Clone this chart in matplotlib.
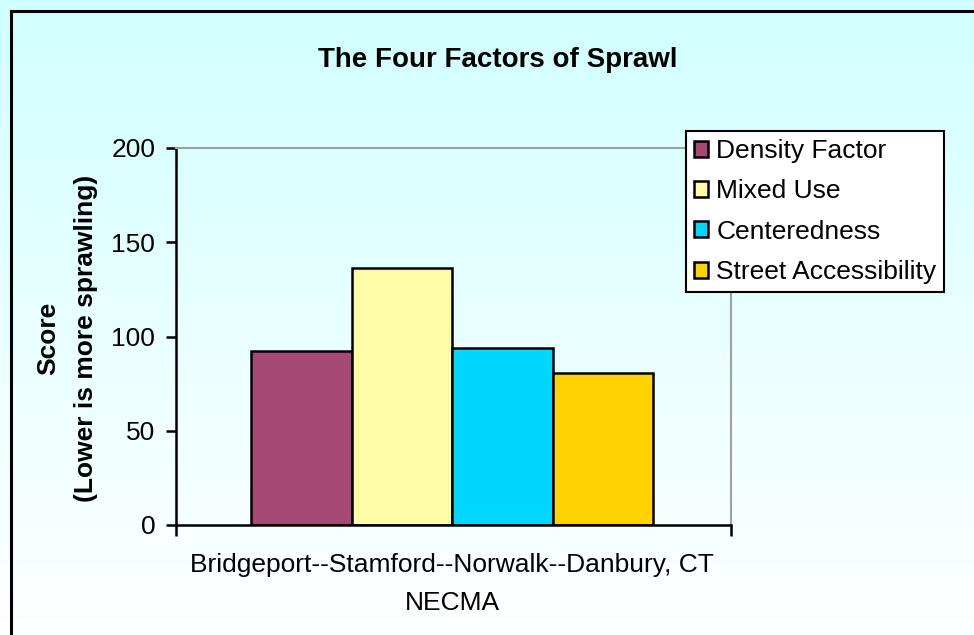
import numpy as np
import matplotlib.pyplot as plt
from matplotlib.lines import Line2D

plt.rcParams['font.family'] = ['Liberation Sans', 'DejaVu Sans']

# ========== Data ==========
category = "Bridgeport--Stamford--Norwalk--Danbury, CT\nNECMA"
series = ["Density Factor", "Mixed Use", "Centeredness", "Street Accessibility"]
scores = [92.3, 136.6, 93.7, 80.6]
colors = ["#A64A74", "#FFFCA8", "#00D7FF", "#FFD200"]
yticks = [0, 50, 100, 150, 200]

fig = plt.figure(figsize=(9.74, 6.35), dpi=100)

# gradient background (light cyan -> white)
bg = fig.add_axes([0, 0, 1, 1], zorder=-10)
grad = np.linspace(0, 1, 256).reshape(-1, 1)
top = np.array([0.82, 1.0, 1.0])
bot = np.array([1.0, 1.0, 1.0])
img = top + (bot - top) * grad[..., None]
bg.imshow(img, aspect="auto", extent=[0, 1, 0, 1], origin="upper")
bg.set_axis_off()

# outer border (left and top visible)
fig.add_artist(Line2D([10.5 / 974, 10.5 / 974], [0, 1 - 11 / 635], transform=fig.transFigure, color="black", lw=2.2))
fig.add_artist(Line2D([10.5 / 974, 1], [1 - 11 / 635, 1 - 11 / 635], transform=fig.transFigure, color="black", lw=2.2))

# ========== Plot area ==========
left, right, top_px, bottom_px = 176, 731, 148, 525
ax = fig.add_axes([left / 974, 1 - bottom_px / 635, (right - left) / 974, (bottom_px - top_px) / 635])
ax.patch.set_alpha(0)

width = 100.5 / 555
n = len(series)
offsets = (np.arange(n) - (n - 1) / 2) * width - 1.5 / 555
for off, val, col, name in zip(offsets, scores, colors, series):
    ax.bar(off, val, width=width, color=col, edgecolor="black", linewidth=1.8, label=name)

ax.set_xlim(-0.5, 0.5)
ax.set_ylim(0, 200)
ax.set_yticks(yticks)
ax.set_yticklabels([str(t) for t in yticks], fontsize=19)
ax.set_xticks([-0.5, 0.5])
ax.set_xticklabels(["", ""])
ax.tick_params(axis="y", direction="out", length=7, width=1.8, color="black", pad=8)
ax.tick_params(axis="x", direction="out", length=8, width=1.8, color="black")

ax.spines["left"].set_linewidth(1.8)
ax.spines["bottom"].set_linewidth(1.8)
ax.spines["top"].set_color("#A0A0A0")
ax.spines["right"].set_color("#A0A0A0")
ax.spines["top"].set_linewidth(1.5)
ax.spines["right"].set_linewidth(1.5)

fig.text(452 / 974, 1 - 553 / 635, category, ha="center", va="top", fontsize=19,
         linespacing=1.75, multialignment="center")

fig.text(498 / 974, 1 - 60 / 635, "The Four Factors of Sprawl", ha="center", va="center",
         fontsize=20, fontweight="bold")
fig.text(67 / 974, 1 - 338 / 635, "Score\n(Lower is more sprawling)", ha="center", va="center",
         rotation=90, fontsize=19, fontweight="bold", linespacing=1.75)

leg = fig.legend(loc="upper left", bbox_to_anchor=(686 / 974, 1 - 131 / 635), fontsize=19,
                 frameon=True, fancybox=False, edgecolor="black", framealpha=1,
                 handlelength=0.55, handleheight=0.55, handletextpad=0.3, labelspacing=0.62,
                 borderpad=0.3, borderaxespad=0)
leg.get_frame().set_linewidth(1.5)

fig.savefig("out.png", dpi=100)
